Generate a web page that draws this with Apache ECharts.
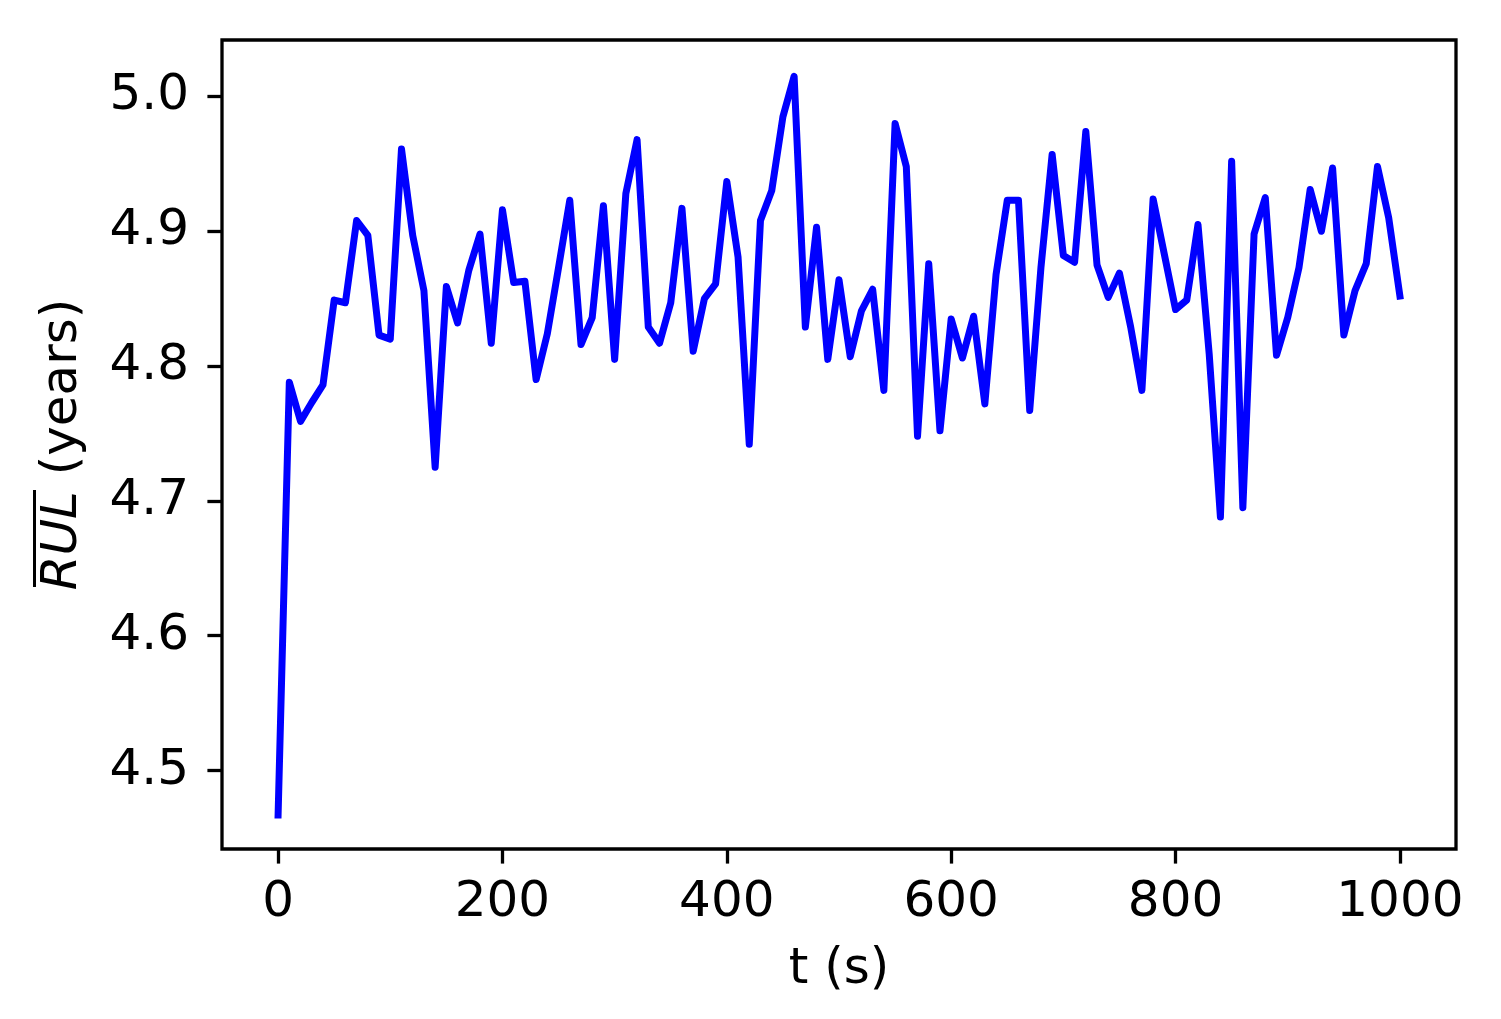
<!DOCTYPE html>
<html>
<head>
<meta charset="utf-8">
<title>RUL over time</title>
<script src="https://cdn.jsdelivr.net/npm/echarts@6/dist/echarts.min.js"></script>
<style>
  html, body { margin: 0; padding: 0; background: #fff; }
  #chart { width: 1501px; height: 1019px; }
</style>
</head>
<body>
<div id="chart"></div>
<script>
// time (s)
const times = [
  0, 10, 20, 30, 40, 50, 60, 70, 80, 90,
  100, 110, 120, 130, 140, 150, 160, 170, 180, 190,
  200, 210, 220, 230, 240, 250, 260, 270, 280, 290,
  300, 310, 320, 330, 340, 350, 360, 370, 380, 390,
  400, 410, 420, 430, 440, 450, 460, 470, 480, 490,
  500, 510, 520, 530, 540, 550, 560, 570, 580, 590,
  600, 610, 620, 630, 640, 650, 660, 670, 680, 690,
  700, 710, 720, 730, 740, 750, 760, 770, 780, 790,
  800, 810, 820, 830, 840, 850, 860, 870, 880, 890,
  900, 910, 920, 930, 940, 950, 960, 970, 980, 990,
  1000
]

// mean RUL (years)
const rulMean = [
  4.467, 4.788, 4.759, 4.773, 4.786, 4.849, 4.847, 4.908, 4.897, 4.823,
  4.820, 4.961, 4.897, 4.856, 4.725, 4.859, 4.832, 4.871, 4.898, 4.817,
  4.916, 4.862, 4.863, 4.790, 4.824, 4.873, 4.923, 4.816, 4.836, 4.919,
  4.805, 4.928, 4.968, 4.829, 4.817, 4.847, 4.917, 4.811, 4.850, 4.861,
  4.937, 4.881, 4.742, 4.908, 4.930, 4.985, 5.015, 4.829, 4.903, 4.805,
  4.864, 4.807, 4.841, 4.857, 4.782, 4.980, 4.948, 4.748, 4.876, 4.752,
  4.835, 4.806, 4.837, 4.772, 4.868, 4.923, 4.923, 4.767, 4.873, 4.957,
  4.882, 4.877, 4.974, 4.875, 4.851, 4.869, 4.829, 4.782, 4.924, 4.883,
  4.842, 4.849, 4.905, 4.809, 4.688, 4.952, 4.695, 4.898, 4.925, 4.808,
  4.836, 4.873, 4.931, 4.900, 4.947, 4.823, 4.856, 4.876, 4.948, 4.910,
  4.852
]

const xTicks = [0, 200, 400, 600, 800, 1000]
const yTicks = [4.5, 4.6, 4.7, 4.8, 4.9, 5.0]

const chart = echarts.init(document.getElementById('chart'))

const font = 'DejaVu Sans'

chart.setOption({
  animation: false,
  backgroundColor: '#fff',
  grid: {
    left: 222,
    right: 45,
    top: 40,
    bottom: 170,
    show: true,
    borderColor: '#000',
    borderWidth: 3.3,
    backgroundColor: 'transparent'
  },
  // overline over RUL in the y axis title
  graphic: [{
    type: 'line',
    shape: { x1: 34.5, y1: 490, x2: 34.5, y2: 587 },
    style: { stroke: '#000', lineWidth: 3 },
    silent: true
  }],
  xAxis: {
    type: 'value',
    min: -50,
    max: 1050,
    name: 't (s)',
    nameLocation: 'middle',
    nameGap: 96,
    nameTextStyle: { color: '#000', fontFamily: font, fontSize: 50 },
    axisLine: { show: false, onZero: false },
    splitLine: { show: false },
    axisTick: {
      show: true,
      inside: false,
      length: 14.6,
      customValues: xTicks,
      lineStyle: { color: '#000', width: 3.3 }
    },
    axisLabel: {
      customValues: xTicks,
      margin: 29,
      color: '#000',
      fontFamily: font,
      fontSize: 50,
      formatter: v => String(v)
    }
  },
  yAxis: {
    type: 'value',
    min: 4.4418,
    max: 5.0419,
    name: '{rul|RUL}{plain| (years)}',
    nameLocation: 'middle',
    nameRotate: 90,
    nameGap: 134,
    nameTextStyle: {
      color: '#000',
      fontFamily: font,
      fontSize: 50,
      rich: {
        rul: { fontFamily: font, fontSize: 50, fontStyle: 'italic', color: '#000' },
        plain: { fontFamily: font, fontSize: 50, color: '#000' }
      }
    },
    axisLine: { show: false, onZero: false },
    splitLine: { show: false },
    axisTick: {
      show: true,
      inside: false,
      length: 14.6,
      customValues: yTicks,
      lineStyle: { color: '#000', width: 3.3 }
    },
    axisLabel: {
      customValues: yTicks,
      margin: 33,
      color: '#000',
      fontFamily: font,
      fontSize: 50,
      formatter: v => v.toFixed(1)
    }
  },
  series: [{
    type: 'line',
    data: times.map((t, i) => [t, rulMean[i]]),
    showSymbol: false,
    symbol: 'none',
    lineStyle: { color: '#0000ff', width: 7, join: 'round', cap: 'square' }
  }]
})
</script>
</body>
</html>
